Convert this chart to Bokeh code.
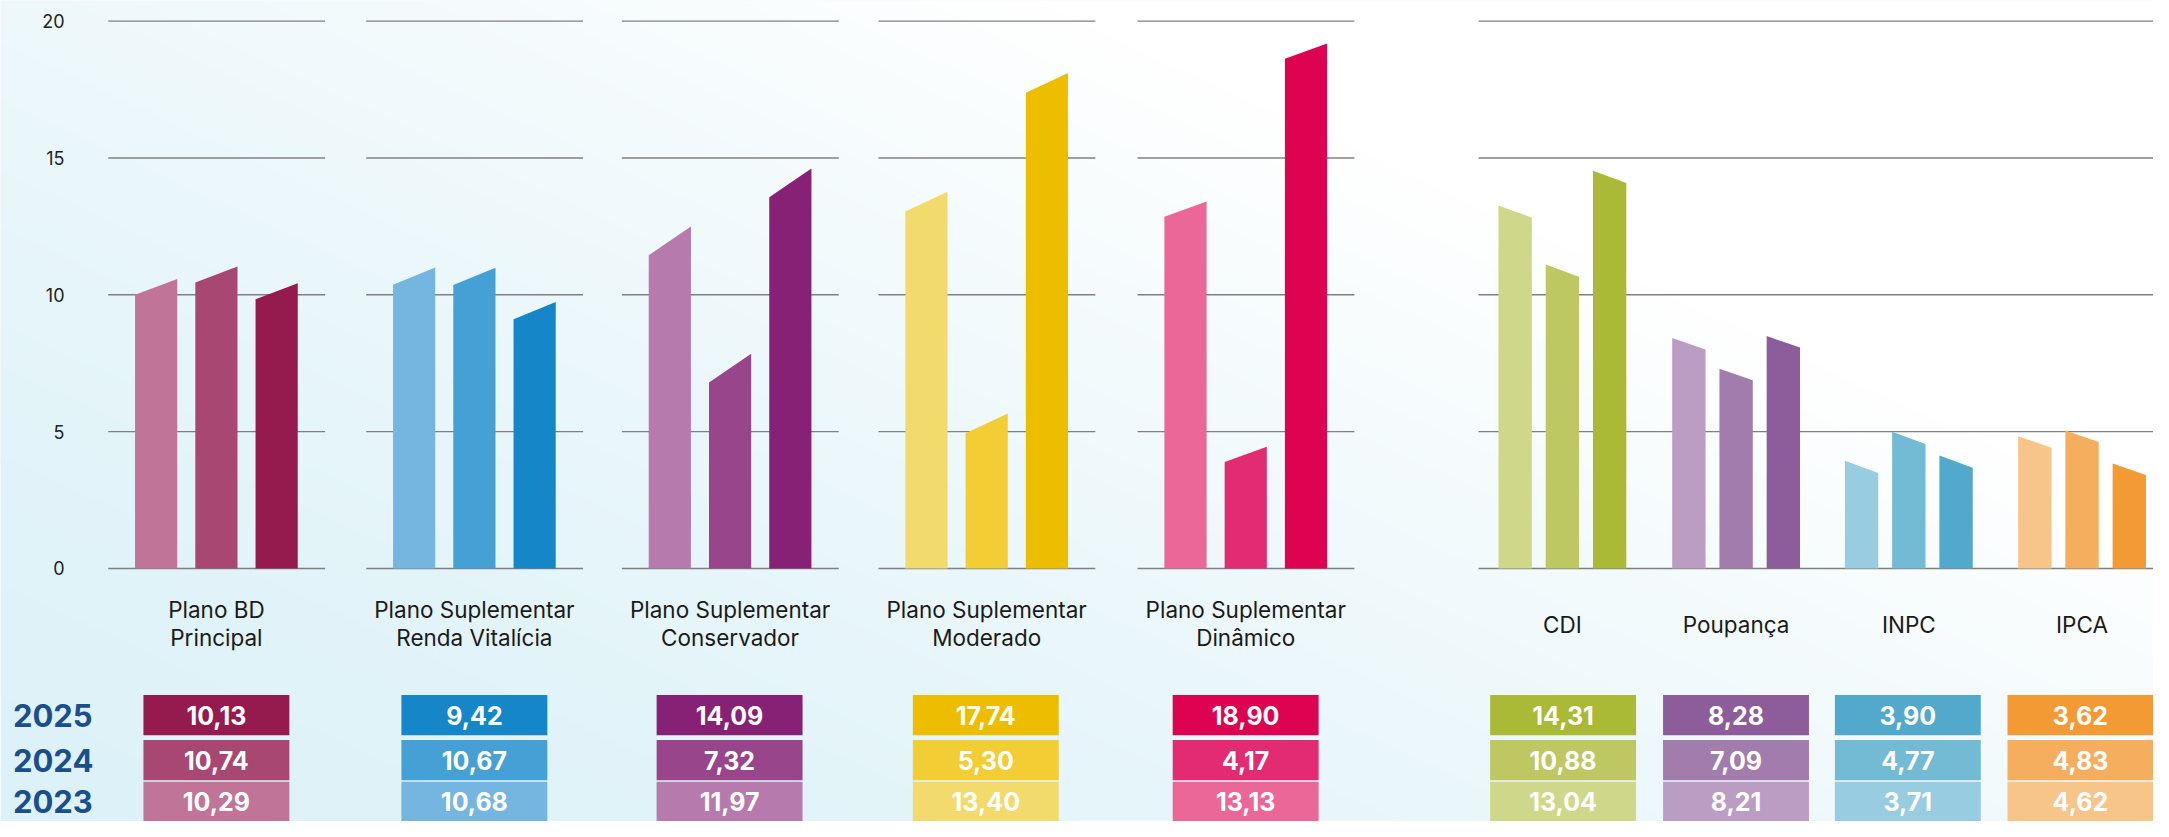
import numpy as np
from bokeh.plotting import figure
from bokeh.models import Range1d
from bokeh.core.properties import value
from bokeh.embed import file_html
from bokeh.resources import INLINE

# ---------------- data ----------------
years = ["2023", "2024", "2025"]
plan_labels = ["Plano BD\nPrincipal", "Plano Suplementar\nRenda Vitalícia",
               "Plano Suplementar\nConservador", "Plano Suplementar\nModerado",
               "Plano Suplementar\nDinâmico"]
plan_2023 = [10.29, 10.68, 11.97, 13.40, 13.13]
plan_2024 = [10.74, 10.67, 7.32, 5.30, 4.17]
plan_2025 = [10.13, 9.42, 14.09, 17.74, 18.90]

bench_labels = ["CDI", "Poupança", "INPC", "IPCA"]
bench_2023 = [13.04, 8.21, 3.71, 4.62]
bench_2024 = [10.88, 7.09, 4.77, 4.83]
bench_2025 = [14.31, 8.28, 3.90, 3.62]

y_ticks = [0, 5, 10, 15, 20]

# ---------------- style / layout ----------------
plan_colors = [  # per plan: 2023, 2024, 2025
    ["#c07598", "#a84872", "#951b4f"],
    ["#74b6e0", "#45a0d5", "#1587c8"],
    ["#b67aad", "#98458c", "#862176"],
    ["#f3da6c", "#f2cd34", "#edbe00"],
    ["#ea6797", "#e32b72", "#dd0351"],
]
bench_colors = [
    ["#cfd88a", "#bec862", "#aab936"],
    ["#bb9dc4", "#a27cad", "#8d5d9b"],
    ["#98cce0", "#73bbd5", "#52a9cc"],
    ["#f7c48a", "#f5ae5e", "#f39a35"],
]
plan_slant = [0.58, 0.63, 1.05, 0.72, 0.56]
bench_slant = [0.45, 0.42, 0.45, 0.42]

FONT = "Inter"
W, H = 2153, 821               # canvas size
RW, RH = 2169, 837             # layout coordinate space
Y0, PPU = 579.0, 27.9          # layout y of value 0, pixels per unit


def v_of(py):
    return (Y0 - py) / PPU


plan_cx = [217.5, 477.4, 735.0, 993.5, 1254.5]
bench_cx = [1573.5, 1748.5, 1922.5, 2097.0]
plan_dx, plan_w = 60.7, 42.5
bench_dx, bench_w = 47.6, 33.6

p = figure(width=W, height=H, output_backend="svg", toolbar_location=None,
           x_range=Range1d(0, RW), y_range=Range1d(v_of(RH), v_of(0)),
           x_axis_location=None, y_axis_location=None, min_border=0)
p.outline_line_color = None
p.grid.visible = False
p.background_fill_color = "#f4fafc"
p.border_fill_color = "#f4fafc"

# ---------------- background gradient ----------------
nx, ny = 540, 210
gx = np.linspace(0, RW, nx)
gy = np.linspace(RH, 0, ny)          # row 0 = bottom
GX, GY = np.meshgrid(gx, gy)
t = np.clip((GX + 2.12 * (RH - GY)) / 2817.0, 0, 1) ** 1.5
c0 = np.array([221, 242, 248], dtype=float)
img = np.empty((ny, nx), dtype=np.uint32)
view = img.view(dtype=np.uint8).reshape((ny, nx, 4))
for ch in range(3):
    view[:, :, ch] = (c0[ch] + (255 - c0[ch]) * t).astype(np.uint8)
view[:, :, 3] = 255
p.image_rgba(image=[img], x=0, y=v_of(RH), dw=RW, dh=v_of(0) - v_of(RH), level="image")

# ---------------- gridlines ----------------
gx0, gx1, gy0 = [], [], []
for tk in y_ticks:
    for cx in plan_cx:
        gx0.append(cx - 109); gx1.append(cx + 109.5); gy0.append(tk)
    gx0.append(1489); gx1.append(RW); gy0.append(tk)
p.segment(x0=gx0, y0=gy0, x1=gx1, y1=gy0, line_color="#808080", line_width=1.4)

# ---------------- bars ----------------
xs, ys, cols = [], [], []
plan_series = [plan_2023, plan_2024, plan_2025]
for g, cx in enumerate(plan_cx):
    for k, vals in enumerate(plan_series):
        x0 = cx + (k - 1) * plan_dx - plan_w / 2
        x1 = x0 + plan_w
        v = vals[g]; s = plan_slant[g]
        xs.append([x0, x0, x1, x1]); ys.append([0, v - s / 2, v + s / 2, 0])
        cols.append(plan_colors[g][k])
bench_series = [bench_2023, bench_2024, bench_2025]
for g, cx in enumerate(bench_cx):
    for k, vals in enumerate(bench_series):
        x0 = cx + (k - 1) * bench_dx - bench_w / 2
        x1 = x0 + bench_w
        v = vals[g]; s = bench_slant[g]
        xs.append([x0, x0, x1, x1]); ys.append([0, v + s / 2, v - s / 2, 0])
        cols.append(bench_colors[g][k])
p.patches(xs=xs, ys=ys, fill_color=cols, line_color=None)

# ---------------- y tick labels ----------------
p.text(x=[64.5] * len(y_ticks), y=y_ticks, text=[str(t_) for t_ in y_ticks],
       text_align="right", text_baseline="middle", text_font=value(FONT),
       text_font_size="18px", text_color="#222222")

# ---------------- category labels ----------------
lx, ly, lt = [], [], []
for cx, lab in zip(plan_cx, plan_labels):
    l1, l2 = lab.split("\n")
    lx += [cx, cx]; ly += [v_of(620.5), v_of(649.5)]; lt += [l1, l2]
for cx, lab in zip(bench_cx, bench_labels):
    lx.append(cx); ly.append(v_of(636)); lt.append(lab)
p.text(x=lx, y=ly, text=lt, text_align="center", text_baseline="middle",
       text_font=value(FONT), text_font_size="22.5px", text_color="#1a1a1a")

# ---------------- table ----------------
row_py = {"2025": 728.5, "2024": 774.5, "2023": 817.0}
box_h = 41 / PPU
p.text(x=[12.5] * 3, y=[v_of(row_py[yr]) for yr in years], text=years,
       text_align="left", text_baseline="middle", text_font=value(FONT),
       text_font_size="31px", text_font_style="bold", text_color="#1b4f8b")

bx, by, bc, bt = [], [], [], []
box_cx = [217.5, 477.4, 734.5, 992.6, 1254.4]
bench_box_cx = [1574.2, 1748.4, 1921.5, 2095.4]
for k, yr in enumerate(years):
    for g, cx in enumerate(box_cx):
        bx.append(cx); by.append(v_of(row_py[yr])); bc.append(plan_colors[g][k])
        bt.append(f"{plan_series[k][g]:.2f}".replace(".", ","))
    for g, cx in enumerate(bench_box_cx):
        bx.append(cx); by.append(v_of(row_py[yr])); bc.append(bench_colors[g][k])
        bt.append(f"{bench_series[k][g]:.2f}".replace(".", ","))
p.rect(x=bx, y=by, width=147, height=box_h, fill_color=bc, line_color=None)
p.text(x=bx, y=by, text=bt, text_align="center", text_baseline="middle",
       text_font=value(FONT), text_font_size="25px", text_font_style="bold",
       text_color="white")

open("out.html", "w").write(file_html(p, INLINE))
